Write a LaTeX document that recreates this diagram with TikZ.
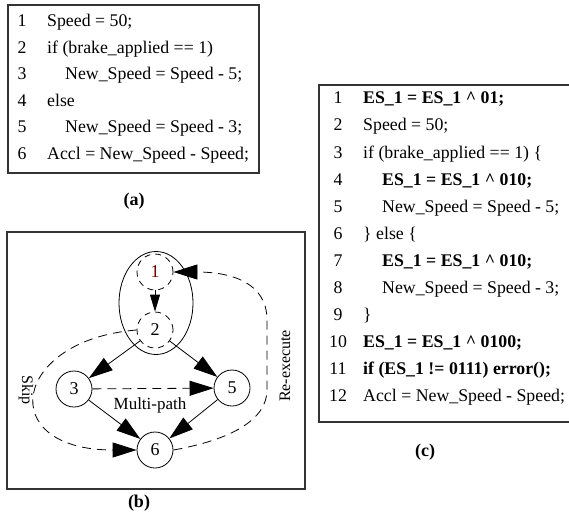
\documentclass[tikz,border=0pt]{standalone}
\usepackage{fontspec}
\setmainfont{Liberation Serif}
\usetikzlibrary{arrows.meta, shapes.geometric}

\begin{document}
\begin{tikzpicture}[x=1pt, y=-1pt,
    frame/.style={draw=black!80, line width=1.6pt},
    codeline/.style={anchor=base west, inner sep=0pt, font=\fontsize{17.8}{20}\selectfont},
    linenum/.style={anchor=base, inner sep=0pt, font=\fontsize{17.8}{20}\selectfont},
    caption/.style={inner sep=0pt, font=\fontsize{18}{20}\selectfont\bfseries},
    state/.style={draw, circle, line width=0.8pt, minimum size=36pt, inner sep=0pt, font=\fontsize{18}{20}\selectfont},
    dstate/.style={state, dash pattern=on 6pt off 5pt},
    edge/.style={draw, line width=0.8pt, -{Triangle[length=24pt, width=15pt]}},
    dedge/.style={edge, dash pattern=on 9pt off 6pt},
    note/.style={inner sep=0pt, font=\fontsize{16}{18}\selectfont}
  ]
  \useasboundingbox (0,0) rectangle (569,513);

  % (a) original code
  \draw[frame] (8,5) rectangle (259,173);
  \foreach \n/\ind/\txt in {1/0/{Speed = 50;}, 2/0/{if (brake\_applied == 1)},
      3/1/{New\_Speed = Speed - 5;}, 4/0/{else}, 5/1/{New\_Speed = Speed - 3;},
      6/0/{Accl = New\_Speed - Speed;}}{
    \node[linenum] (a-n\n) at (22, 26.6*\n) {\n};
    \node[codeline] (a-l\n) at (47+18*\ind, 26.6*\n) {\txt};
  }
  \node[caption] (cap-a) at (134,201) {(a)};

  % (b) control flow graph
  \draw[frame] (7,232) rectangle (305,489);
  \node[dstate, text=red!45!black] (n1) at (155,272) {1};
  \node[dstate] (n2) at (155,330) {2};
  \node[state] (n3) at (74,389) {3};
  \node[state] (n5) at (232,388) {5};
  \node[state] (n6) at (155,450) {6};
  \node[draw, ellipse, line width=0.8pt, minimum width=74pt, minimum height=103pt, inner sep=0pt] (grp) at (156,303) {};

  \draw[dedge, -{Triangle[length=17pt, width=10pt]}] (n1) -- (n2);
  \draw[edge] (n2) -- (n3);
  \draw[edge] (n2) -- (n5);
  \draw[edge] (n3) -- (n6);
  \draw[edge] (n5) -- (n6);
  \draw[dedge] (n3) -- (n5);
  \node[note, font=\fontsize{17}{18}\selectfont] (mp) at (150,405) {Multi-path};

  % skip and re-execute
  \draw[dedge] (n2.west) .. controls (12,340) and (-6,450) .. (n6.west);
  \node[note, rotate=-90] (skip) at (26,390) {Skip};
  \draw[dedge] (n6.east) .. controls (230,440) and (267,420) .. (267,390)
    -- (267,320) .. controls (267,282) and (230,272) .. (n1.east);
  \node[note, rotate=90] (reex) at (285,366) {Re-execute};
  \node[caption] (cap-b) at (139,503) {(b)};

  % (c) instrumented code, right edge cut off
  \draw[frame] (569,85) -- (319,85) -- (319,422) -- (569,422);
  \foreach \n/\ind/\txt in {1/0/{\bfseries ES\_1 = ES\_1 \textasciicircum{} 01;},
      2/0/{Speed = 50;}, 3/0/{if (brake\_applied == 1) \{},
      4/1/{\bfseries ES\_1 = ES\_1 \textasciicircum{} 010;}, 5/1/{New\_Speed = Speed - 5;},
      6/0/{\} else \{}, 7/1/{\bfseries ES\_1 = ES\_1 \textasciicircum{} 010;},
      8/1/{New\_Speed = Speed - 3;}, 9/0/{\}},
      10/0/{\bfseries ES\_1 = ES\_1 \textasciicircum{} 0100;},
      11/0/{\bfseries if (ES\_1 != 0111) error();},
      12/0/{Accl = New\_Speed - Speed;}}{
    \node[linenum] (c-n\n) at (338, 77+27*\n) {\n};
    \node[codeline] (c-l\n) at (363+19*\ind, 77+27*\n) {\txt};
  }
  \node[caption] (cap-c) at (425,452) {(c)};
\end{tikzpicture}
\end{document}
